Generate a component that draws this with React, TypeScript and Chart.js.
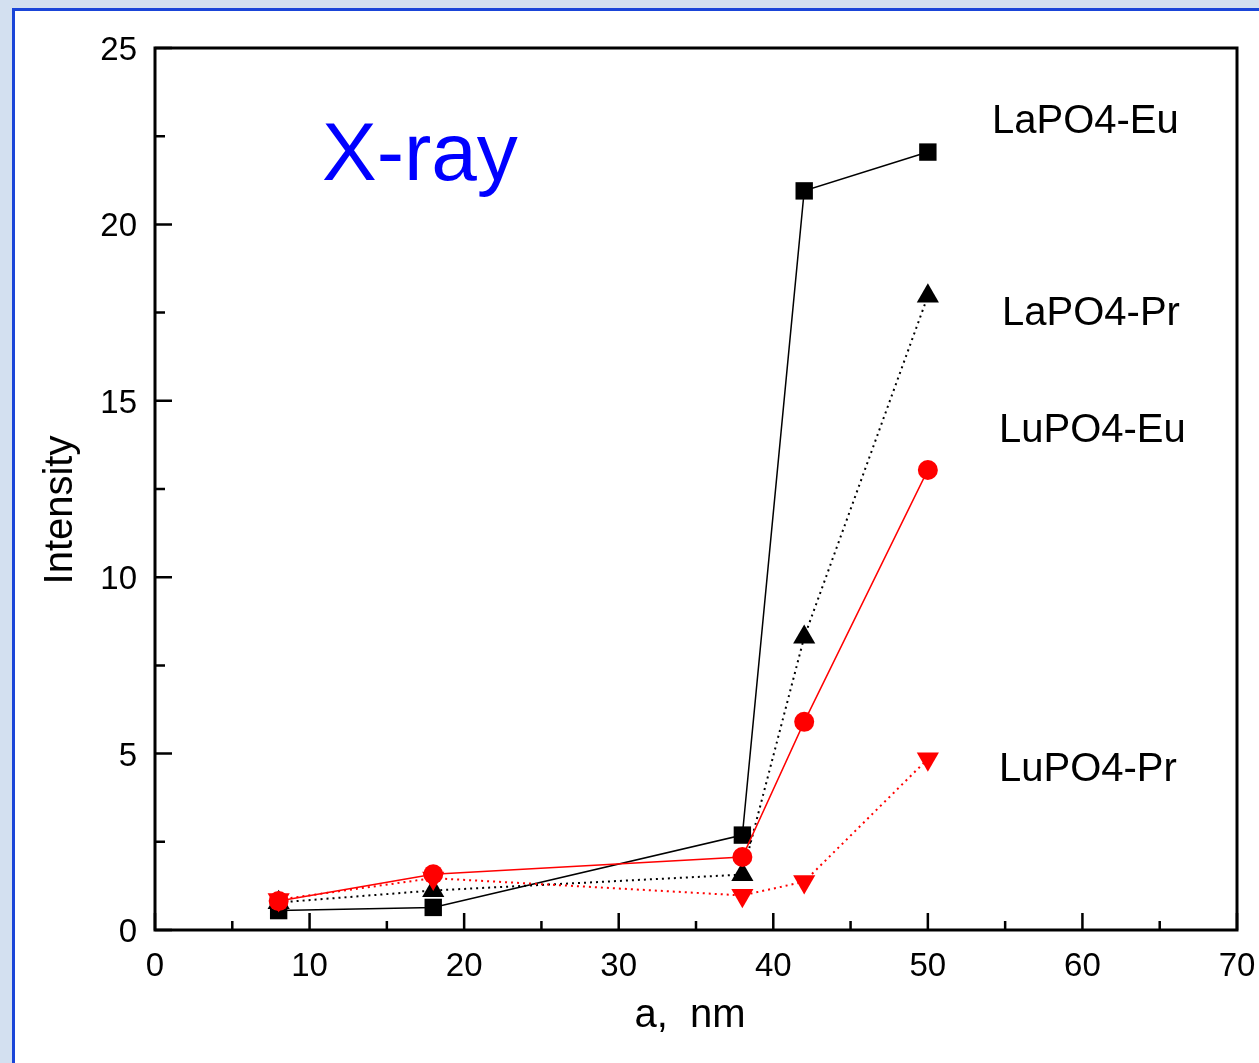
import React, { useEffect, useRef } from "react";
import { Chart, registerables } from "chart.js";

Chart.register(...registerables);

// ---- data ----
const sizesNm = [8, 18, 38, 42, 50];
const laPO4Eu = [0.55, 0.64, 2.69, 20.95, 22.05];
const laPO4Pr = [0.78, 1.12, 1.57, 8.3, 17.97];
const luPO4Eu = [0.82, 1.58, 2.07, 5.9, 13.04];
const luPO4Pr = [0.86, 1.47, 0.98, 1.37, 4.85];

const seriesNames = ["LaPO4-Eu", "LaPO4-Pr", "LuPO4-Eu", "LuPO4-Pr"];
const seriesLabelAnchors = [
  [54.15, 22.59],
  [54.8, 17.15],
  [54.6, 13.83],
  [54.6, 4.22],
];
const chartTitle = "X-ray";
const titleAnchor = [10.8, 21.26];
const xAxisTitle = "a,  nm";
const yAxisTitle = "Intensity";

const xMajorTicks = [0, 10, 20, 30, 40, 50, 60, 70];
const xMinorTicks = [5, 15, 25, 35, 45, 55, 65];
const yMajorTicks = [0, 5, 10, 15, 20, 25];
const yMinorTicks = [2.5, 7.5, 12.5, 17.5, 22.5];

const FONT = "'Liberation Sans', Arial, Helvetica, sans-serif";

const toPoints = (ys: number[]) => sizesNm.map((x, i) => ({ x, y: ys[i] }));

const framePlugin = {
  id: "frameAndText",
  afterDatasetsDraw(chart: any) {
    const { ctx, chartArea } = chart;
    const xs = chart.scales.x;
    const ys = chart.scales.y;
    const { left, right, top, bottom } = chartArea;
    ctx.save();
    ctx.strokeStyle = "#000";
    ctx.lineWidth = 3;
    ctx.lineCap = "butt";
    ctx.strokeRect(left, top, right - left, bottom - top);
    ctx.lineWidth = 2.5;
    ctx.beginPath();
    xMajorTicks.forEach((v) => {
      const px = xs.getPixelForValue(v);
      ctx.moveTo(px, bottom);
      ctx.lineTo(px, bottom - 17);
    });
    xMinorTicks.forEach((v) => {
      const px = xs.getPixelForValue(v);
      ctx.moveTo(px, bottom);
      ctx.lineTo(px, bottom - 9);
    });
    yMajorTicks.forEach((v) => {
      const py = ys.getPixelForValue(v);
      ctx.moveTo(left, py);
      ctx.lineTo(left + 17, py);
    });
    yMinorTicks.forEach((v) => {
      const py = ys.getPixelForValue(v);
      ctx.moveTo(left, py);
      ctx.lineTo(left + 10, py);
    });
    ctx.stroke();

    // annotations
    ctx.textBaseline = "alphabetic";
    ctx.textAlign = "left";
    ctx.fillStyle = "#0000ff";
    ctx.font = `82px ${FONT}`;
    ctx.fillText(chartTitle, xs.getPixelForValue(titleAnchor[0]), ys.getPixelForValue(titleAnchor[1]));

    ctx.fillStyle = "#000";
    ctx.font = `40px ${FONT}`;
    seriesNames.forEach((name, i) => {
      const [ax, ay] = seriesLabelAnchors[i];
      ctx.fillText(name, xs.getPixelForValue(ax), ys.getPixelForValue(ay));
    });

    // axis titles
    ctx.textAlign = "center";
    ctx.textBaseline = "middle";
    ctx.font = `40px ${FONT}`;
    ctx.fillText(xAxisTitle, (left + right) / 2 - 6, bottom + 86);
    ctx.save();
    ctx.translate(61, (top + bottom) / 2 + 21);
    ctx.rotate(-Math.PI / 2);
    ctx.fillText(yAxisTitle, 0, 0);
    ctx.restore();
    ctx.restore();
  },
};

export default function App() {
  const canvasRef = useRef<HTMLCanvasElement | null>(null);

  useEffect(() => {
    const canvas = canvasRef.current;
    if (!canvas) return;
    const dotted = [2, 4];
    const chart = new Chart(canvas, {
      type: "line",
      data: {
        datasets: [
          {
            label: seriesNames[0],
            data: toPoints(laPO4Eu),
            borderColor: "#000",
            backgroundColor: "#000",
            borderWidth: 1.5,
            pointStyle: "rect",
            pointRadius: 12.3,
            pointBorderWidth: 0,
            order: 3,
          },
          {
            label: seriesNames[1],
            data: toPoints(laPO4Pr),
            borderColor: "#000",
            backgroundColor: "#000",
            borderWidth: 2,
            borderDash: dotted,
            pointStyle: "triangle",
            pointRadius: 12.8,
            pointBorderWidth: 0,
            order: 2,
          },
          {
            label: seriesNames[2],
            data: toPoints(luPO4Eu),
            borderColor: "#ff0000",
            backgroundColor: "#ff0000",
            borderWidth: 1.5,
            pointStyle: "circle",
            pointRadius: 10,
            pointBorderWidth: 0,
            order: 0,
          },
          {
            label: seriesNames[3],
            data: toPoints(luPO4Pr),
            borderColor: "#ff0000",
            backgroundColor: "#ff0000",
            borderWidth: 2,
            borderDash: dotted,
            pointStyle: "triangle",
            pointRotation: 180,
            pointRadius: 12.8,
            pointBorderWidth: 0,
            order: 1,
          },
        ],
      },
      options: {
        responsive: false,
        animation: false,
        events: [],
        layout: { padding: { left: 0, top: 48, right: 22, bottom: 0 } },
        plugins: { legend: { display: false }, tooltip: { enabled: false } },
        elements: { line: { tension: 0, fill: false } },
        scales: {
          x: {
            type: "linear",
            min: 0,
            max: 70,
            grid: { display: false, drawTicks: false },
            border: { display: false },
            ticks: {
              stepSize: 10,
              color: "#000",
              padding: 17,
              maxRotation: 0,
              font: { family: FONT, size: 33 },
            },
            afterFit: (s: any) => {
              s.height = 133;
              s.paddingLeft = 0;
              s.paddingRight = 0;
            },
          },
          y: {
            type: "linear",
            min: 0,
            max: 25,
            grid: { display: false, drawTicks: false },
            border: { display: false },
            ticks: {
              stepSize: 5,
              color: "#000",
              padding: 18,
              labelOffset: 3,
              font: { family: FONT, size: 33 },
            },
            afterFit: (s: any) => {
              s.width = 155;
              s.paddingTop = 0;
              s.paddingBottom = 0;
            },
          },
        },
      },
      plugins: [framePlugin],
    });
    return () => chart.destroy();
  }, []);

  return (
    <div
      style={{
        position: "fixed",
        left: 0,
        top: 0,
        width: 1259,
        height: 1063,
        background: "#d3e0f0",
        overflow: "hidden",
      }}
    >
      <div
        style={{
          position: "absolute",
          left: 12,
          top: 8,
          right: 0,
          bottom: 0,
          background: "#fff",
          borderLeft: "3px solid #1a45d8",
          borderTop: "3px solid #1a45d8",
        }}
      />
      <canvas
        ref={canvasRef}
        width={1259}
        height={1063}
        style={{ position: "absolute", left: 0, top: 0 }}
      />
    </div>
  );
}
